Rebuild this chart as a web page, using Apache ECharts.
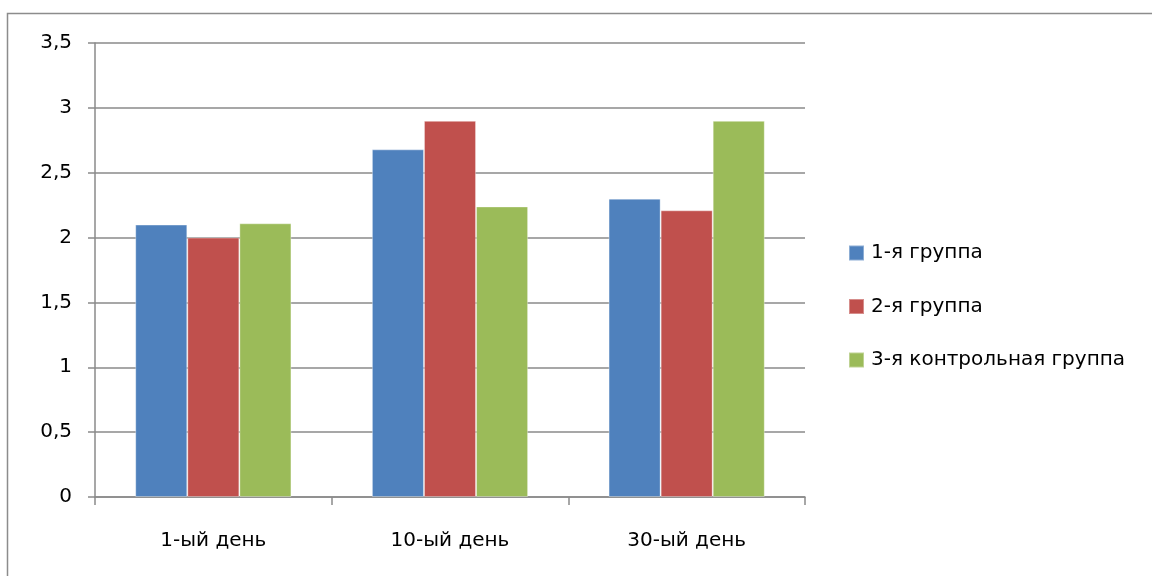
<!DOCTYPE html>
<html>
<head>
<meta charset="utf-8">
<script src="https://cdn.jsdelivr.net/npm/echarts@6/dist/echarts.min.js"></script>
<style>
  html, body { margin: 0; padding: 0; background: #ffffff; }
  #chart { width: 1152px; height: 576px; }
</style>
</head>
<body>
<div id="chart"></div>
<script>
// Categories (days) and the three group series
const days = ['1-ый день', '10-ый день', '30-ый день'];
const group1 = [2.1, 2.68, 2.3];
const group2 = [2.0, 2.9, 2.21];
const group3 = [2.11, 2.24, 2.9];
const seriesNames = ['1-я группа', '2-я группа', '3-я контрольная группа'];
const seriesColors = ['#4F81BD', '#C0504D', '#9BBB59'];

const font = '"DejaVu Sans", "Open Sans", sans-serif';
const fontSize = 20;
const gridColor = '#8a8a8a';

const chart = echarts.init(document.getElementById('chart'));

function bar(name, data, color) {
  return {
    name: name,
    type: 'bar',
    data: data,
    barGap: '0%',
    barCategoryGap: '34%',
    itemStyle: { color: color, borderColor: 'rgba(255,255,255,0.35)', borderWidth: 1 },
    emphasis: { disabled: true }
  };
}

chart.setOption({
  animation: false,
  textStyle: { fontFamily: font },
  graphic: [{
    // chart-area frame: left and top edges run off the canvas
    type: 'polyline',
    shape: { points: [[7.5, 600], [7.5, 13.5], [1170, 13.5]] },
    style: { fill: 'none', stroke: '#8c8c8c', lineWidth: 1.5 },
    z: -1
  }],
  grid: { left: 95, top: 43, right: 347, bottom: 79 },
  legend: {
    orient: 'vertical',
    left: 848,
    top: 243,
    padding: 0,
    itemWidth: 15,
    itemHeight: 15,
    itemGap: 33.5,
    icon: 'rect',
    textStyle: { fontFamily: font, fontSize: fontSize, lineHeight: 15, color: '#000', padding: [0, 0, 0, 2] },
    data: seriesNames
  },
  xAxis: {
    type: 'category',
    data: days,
    axisLine: { lineStyle: { color: gridColor, width: 1.5 } },
    axisTick: { show: true, length: 8, lineStyle: { color: gridColor, width: 1.5 } },
    axisLabel: { color: '#000', fontSize: fontSize, margin: 34, fontFamily: font }
  },
  yAxis: {
    type: 'value',
    min: 0,
    max: 3.5,
    interval: 0.5,
    axisLine: { show: true, lineStyle: { color: gridColor, width: 1.5 } },
    axisTick: { show: true, length: 7, lineStyle: { color: gridColor, width: 1.5 } },
    splitLine: { show: true, lineStyle: { color: gridColor, width: 1.5 } },
    axisLabel: {
      color: '#000', fontSize: fontSize, margin: 23, fontFamily: font,
      formatter: v => String(v).replace('.', ',')
    }
  },
  series: [
    bar(seriesNames[0], group1, seriesColors[0]),
    bar(seriesNames[1], group2, seriesColors[1]),
    bar(seriesNames[2], group3, seriesColors[2])
  ]
});
</script>
</body>
</html>
